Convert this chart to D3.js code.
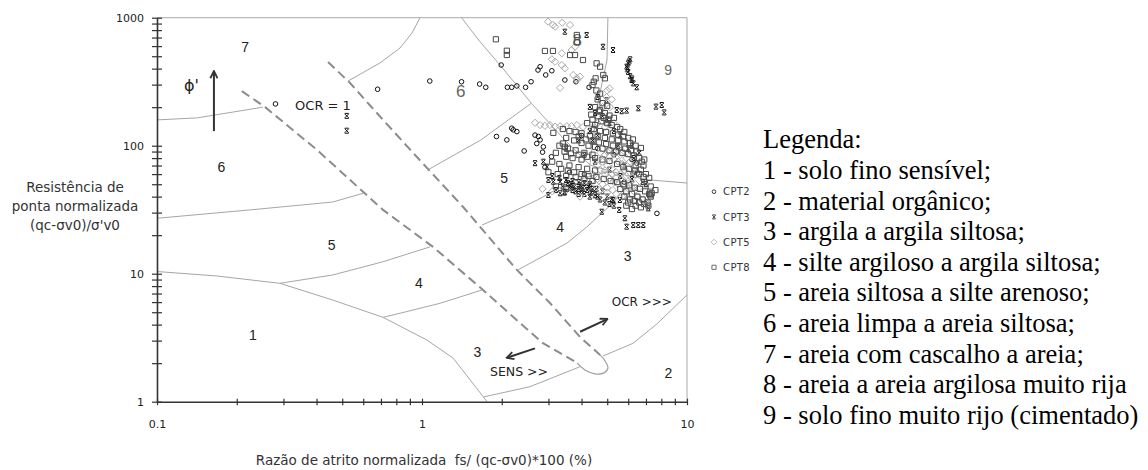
<!DOCTYPE html>
<html>
<head>
<meta charset="utf-8">
<script src="https://cdn.jsdelivr.net/npm/d3@7"></script>
<style>
  body { margin: 0; background: #fff; }
  text { white-space: pre; }
</style>
</head>
<body>
<div id="chart"></div>
<script>
// ---- data: [Fr (%), Q] pairs ----
var yMajorTicks = [1, 10, 100, 1000];
var xMajorTicks = [0.1, 1, 10];

// zone boundaries (solid)
var b67a = [[0.1,159],[0.142,165],[0.251,200]];
var b67b = [[0.526,320],[0.694,443],[0.826,580],[0.917,759],[0.983,1000]];
var b56a = [[0.1,27.1],[0.224,31.5],[0.46,36.3],[0.60,42.5]];
var b56b = [[1.05,64.6],[1.67,111],[2.58,214]];
var b8 = [[1.41,1000],[1.655,649],[1.97,427],[2.59,214],[3.40,115],[4.30,70.7]];
var b9 = [[5.03,1000],[4.99,467],[4.78,309],[4.58,200],[4.30,70.7]];
var b93 = [[4.30,70.7],[5.12,63.4],[6.26,57],[7.25,54],[10,51.1]];
var b45a = [[0.291,8.41],[0.46,9.77],[0.713,12.4],[1.072,16.2]];
var b45b = [[1.684,24.0],[2.15,29.8],[2.72,37.6],[3.62,52.1],[5.12,63.4]];
var b34a = [[0.713,4.56],[0.826,4.91],[1.169,5.87],[1.684,7.46]];
var b34b = [[2.30,10.7],[2.79,13.3],[3.53,17.4],[4.19,23.2],[4.82,30.3],[5.26,35.7],[6.26,57]];
var b1 = [[0.1,10.4],[0.168,9.6],[0.291,8.41],[0.46,6.23],[0.713,4.56],[1.044,3.03],[1.31,2.19],[1.52,1.48],[1.76,1]];
var b23a = [[1.71,1.09],[2.556,1.31],[3.95,1.877]];
var b23b = [[4.82,2.275],[6.26,2.86],[7.70,4.05],[10,6.82]];

// normally consolidated band (dashed) and its rounded end
var ncLow = [[0.209,267],[0.256,200],[0.402,92.5],[0.713,31.5],[1.10,16.2],[1.70,7.46],[2.21,4.59],[2.86,2.87],[3.85,2.01]];
var ncHigh = [[0.442,451],[0.535,309],[0.713,159],[0.957,81.6],[1.43,33.2],[2.28,10.7],[3.04,5.90],[3.95,3.20],[4.70,2.32]];
var ncEnd = [[3.85,2.01],[4.12,1.77],[4.50,1.65],[4.86,1.68],[5.03,1.83],[4.91,2.08],[4.70,2.32]];

// CPT soundings
var cpt2 = [[0.28,212],[0.68,276],[1.07,320],[1.41,316],[1.65,303],[1.74,286],[2.1,286],[2.18,286],[2.28,293],[2.46,286],
  [2.58,316],[1.99,427],[2.79,414],[2.74,390],[3.09,385],[2.93,357],[3.46,326],[3.81,316],[4.27,286],
  [1.91,118],[2.09,111],[2.18,137],[2.21,133],[2.28,129],[2.43,91],[2.67,121],[2.75,118],[2.79,111],[2.71,104],[2.87,98],
  [2.85,89],[3.08,82],[2.91,68],[7.7,29.6],[6.2,78],[6.45,73],[6.25,61],[6.5,61],
  [4.0,120],[4.6,95],[5.3,85],[3.6,62],[4.1,60],[5.8,52]];
var cpt3 = [[0.52,171],[0.52,131],[3.46,777],[4.18,733],[4.82,593],[5.26,559],
  [6.1,473],[6.05,455],[6.0,440],[5.92,414],[5.95,395],[6.0,377],[6.1,349],[6.2,335],[6.18,326],[6.27,307],[6.46,286],
  [5.43,190],[5.67,186],[5.92,188],[6.55,196],[7.64,202],[8.03,208],[8.2,182],
  [4.77,30.5],[5.55,31.5],[5.83,27.1],[5.92,23.3],[6.27,24],[6.55,24],[6.84,24],[7.14,32.4],[5.27,37.6],[5.58,37.6],
  [2.67,73],[2.87,75],[2.96,68.5],[3.0,54],[3.13,52.3],[3.32,52.3],[3.0,41.2],[3.32,42.5],[3.46,43.7],
  [3.6,47],[3.7,45],[3.8,44],[3.9,46],[4.0,44],[4.1,42],[4.2,45],[4.35,43],[4.5,41],[4.6,40],[3.65,50],[3.95,49],
  [4.25,48],[4.55,46],[4.8,44],[5.0,40],[5.2,38],[4.3,201],[4.97,226],[4.6,240],
  [5.0,160],[5.3,130],[4.6,120],[5.5,100],[6.0,95],[6.3,80],[5.8,70],[6.8,52],[7.0,50],[4.3,130],[3.9,110],[3.5,95],
  [4.1,85],[4.5,75],[5.1,65],[5.6,58],[6.2,55],
  [3.1,58],[3.3,56],[3.5,54],[3.7,53],[3.9,52],[4.1,51],[4.3,50],[3.4,48],[3.55,51],[3.75,48],[4.05,47],[4.4,46],
  [3.2,45],[3.45,43],[3.9,42],[4.3,40],[4.7,38],[4.9,36],[5.1,35],[5.3,34],
  [4.5,180],[4.8,170],[5.1,150],[4.4,110],[5.6,120],[6.2,100],[6.6,88]];
var cpt5 = [[2.99,931],[3.12,877],[3.38,914],[3.62,877],[3.18,851],
  [3.37,527],[3.67,559],[3.78,593],[3.09,473],[3.18,453],[3.37,427],[3.46,402],[3.72,357],[3.84,336],[3.95,346],
  [2.67,151],[2.79,145],[2.91,143],[3.04,145],[3.18,141],[3.32,142],[3.52,142],[3.67,142],[3.84,145],[4.05,140],[4.4,138],
  [4.7,88],[4.9,85],[5.1,82],[5.3,78],[5.5,75],[5.7,72],[4.8,75],[5.0,70],[5.2,66],[5.4,62],[5.6,60],[5.9,58],[4.7,65],
  [4.9,60],[5.1,56],[5.3,52],[5.5,50],[5.8,48],[6.0,46],[4.6,55],[4.8,50],[5.0,47],[5.25,45],[6.1,52],[6.3,44],[6.5,40],
  [6.8,38],[7.0,36],[3.5,45],[3.95,40],[2.85,46],[3.1,44],[5.1,280],[4.97,240],[3.84,326],[3.32,283],[5.0,270],[5.12,200],
  [5.0,90],[5.3,88],[5.6,85],[5.9,80],[6.1,75],[6.3,68],[6.5,62],[5.8,65],[6.0,60],[6.2,56],[6.4,50],[6.6,47],[5.4,56],
  [5.65,54],[5.2,60],[4.9,64],[4.6,70],[4.4,60],[4.5,50],[4.7,45],[5.0,43],[5.4,42],[5.7,40],[6.0,39],[6.3,37],
  [4.6,150],[4.9,140],[5.3,150],[4.8,200],[5.2,230]];
var cpt8 = [[1.9,678],[2.09,552],[2.09,511],[2.91,550],[3.12,550],[3.62,511],[3.78,511],[3.84,733],[3.84,646],[4.05,467],
  [4.56,440],[4.70,414],[4.45,316],[4.4,298],[4.52,336],[4.83,357],[4.9,336],
  [3.13,126],[3.4,104],[3.46,98],[7.36,42.5],[6.75,75],[6.85,70],[7.26,41],
  [4.55,270],[4.7,255],[4.6,230],[4.8,215],[5.0,205],[4.5,200],[4.7,190],[4.9,180],[5.1,172],[4.6,170],[5.3,165],[4.4,160],
  [4.75,155],[5.0,150],[5.2,145],[5.45,140],[5.6,135],[5.8,128],[4.5,145],[4.2,150],
  [3.4,135],[3.6,130],[3.8,128],[4.0,125],[4.3,120],[4.6,118],[4.9,115],[5.2,112],[5.5,110],[5.8,108],[6.1,105],[6.4,100],
  [6.7,96],[3.5,115],[3.75,110],[4.0,105],[4.25,100],[4.5,98],[4.8,95],[5.1,92],[5.4,90],[5.7,88],[6.0,86],[6.3,84],
  [6.6,80],[6.9,78],[3.3,100],[3.55,95],[3.8,92],[4.1,88],[4.4,85],[3.2,88],[3.5,82],[3.7,80],[4.0,78],
  [3.1,75],[3.3,72],[3.6,70],[3.9,68],[4.2,66],[4.5,64],[6.4,70],[6.7,65],[7.0,60],[7.2,56],[6.9,52],[7.3,48],[3.0,62],
  [3.25,60],[3.5,58],[3.8,57],[4.1,55],[4.4,53],[5.6,46],[5.9,44],[6.2,42],[6.5,40],[6.8,38],[7.1,36],[6.0,36],[6.4,34],
  [6.7,33],[7.3,40],[7.6,45],[3.2,48],[3.5,46],
  [4.35,175],[4.65,185],[4.85,165],[5.05,160],[4.45,135],[4.7,130],[4.95,128],[5.25,125],[5.5,122],[5.75,118],[6.0,115],
  [6.25,112],[3.9,118],[4.15,112],[4.4,108],[4.65,106],[4.95,103],[5.25,100],[5.55,97],[5.85,95],[6.15,92],[6.45,90],
  [3.45,90],[3.65,87],[3.9,85],[4.2,82],[4.5,80],[4.8,78],[5.1,76],[5.45,72],[5.75,68],[6.05,66],[6.35,64],[6.6,60],
  [6.85,57],[3.35,66],[3.55,64],[3.75,62],[4.0,60],[4.25,58],[4.55,57],[4.85,55],[5.15,53],[5.45,52],[5.75,50],[6.05,49],
  [6.35,47],[6.65,46],[6.95,44],[7.2,42],[5.8,40],[6.1,38],[6.35,37],[6.6,36],[6.9,35],[7.15,34],[5.9,34],[6.2,32]];

var seriesNames = ["CPT2", "CPT3", "CPT5", "CPT8"];

// zone numbers [label, Fr, Q]
var zoneLabels = [["7",0.215,593],["6",0.175,68.5],["6",1.40,267],["8",3.85,670],["9",8.48,390],["5",2.04,55.6],
  ["5",0.456,16.8],["4",0.974,8.5],["4",3.32,23.3],["3",5.97,13.7],["3",1.62,2.46],["2",8.5,1.67],["1",0.23,3.32]];

var legendTitle = "Legenda:";
var zoneNames = ["1 - solo fino sensível;", "2 - material orgânico;", "3 - argila a argila siltosa;",
  "4 - silte argiloso a argila siltosa;", "5 - areia siltosa a silte arenoso;", "6 - areia limpa a areia siltosa;",
  "7 - areia com cascalho a areia;", "8 - areia a areia argilosa muito rija", "9 - solo fino muito rijo (cimentado)"];

// ---- drawing ----
var width = 1148, height = 470;
var margin = {left: 157, right: 461, top: 17.7, bottom: 68.3};

var svg = d3.select("#chart").append("svg").attr("width", width).attr("height", height);

var x = d3.scaleLog().domain([0.1, 10]).range([margin.left, width - margin.right]);
var y = d3.scaleLog().domain([1, 1000]).range([height - margin.bottom, margin.top]);

var defs = svg.append("defs");
defs.append("marker").attr("id", "arr")
    .attr("viewBox", "0 0 10 10").attr("refX", 8).attr("refY", 5)
    .attr("markerWidth", 9).attr("markerHeight", 9)
    .attr("markerUnits", "userSpaceOnUse").attr("orient", "auto")
    .append("path").attr("d", "M1,1L9,5L1,9")
    .attr("fill", "none").attr("stroke", "#333").attr("stroke-width", 2);

// frame (top and right)
svg.append("path")
    .attr("d", "M" + x(0.1) + "," + y(1000) + "H" + x(10) + "V" + y(1))
    .attr("fill", "none").attr("stroke", "#aaa").attr("stroke-width", 1);

var line = d3.line().x(function(d) { return x(d[0]); }).y(function(d) { return y(d[1]); });

var boundaries = [b67a, b67b, b56a, b56b, b8, b9, b93, b45a, b45b, b34a, b34b, b1, b23a, b23b];
svg.append("g").selectAll("path")
    .data(boundaries).enter().append("path")
    .attr("d", line)
    .attr("fill", "none").attr("stroke", "#a6a6a6").attr("stroke-width", 1);

svg.append("g").selectAll("path")
    .data([ncLow, ncHigh]).enter().append("path")
    .attr("d", line)
    .attr("fill", "none").attr("stroke", "#8c8c8c").attr("stroke-width", 2)
    .attr("stroke-dasharray", "9,5");

svg.append("path")
    .attr("d", line.curve(d3.curveCatmullRom)(ncEnd))
    .attr("fill", "none").attr("stroke", "#a0a0a0").attr("stroke-width", 1.2);
line.curve(d3.curveLinear);

// axes
var yAxis = d3.axisLeft(y).tickValues(y.ticks())
    .tickFormat(function(d) { return yMajorTicks.indexOf(d) >= 0 ? d : ""; })
    .tickSizeOuter(0);
var gy = svg.append("g").attr("transform", "translate(" + x(0.1) + ",0)").call(yAxis);
gy.select(".domain").attr("stroke", "#333").attr("stroke-width", 1.6);
gy.selectAll(".tick line").attr("x1", -5).attr("x2", 5).attr("stroke", "#333").attr("stroke-width", 1.2);
gy.selectAll(".tick text").attr("x", -13).attr("fill", "#222")
    .style("font-family", "DejaVu Sans").style("font-size", "11px");

var xAxis = d3.axisBottom(x).tickValues(x.ticks())
    .tickFormat(function(d) { return xMajorTicks.indexOf(d) >= 0 ? d : ""; })
    .tickSizeOuter(0);
var gx = svg.append("g").attr("transform", "translate(0," + y(1) + ")").call(xAxis);
gx.select(".domain").attr("stroke", "#333").attr("stroke-width", 1.6);
gx.selectAll(".tick line").attr("y1", -3).attr("y2", 3.5).attr("stroke", "#333").attr("stroke-width", 1.2);
gx.selectAll(".tick text").attr("y", 19).attr("fill", "#222")
    .style("font-family", "DejaVu Sans").style("font-size", "11px");

// axis titles
svg.append("text")
    .attr("x", 424).attr("y", 465).attr("text-anchor", "middle")
    .attr("fill", "#333").style("font-family", "DejaVu Sans").style("font-size", "13.5px")
    .text("Razão de atrito normalizada  fs/ (qc-σv0)*100 (%)");

var yTitle = ["Resistência de", "ponta normalizada", "(qc-σv0)/σ'v0"];
svg.append("g").selectAll("text")
    .data(yTitle).enter().append("text")
    .attr("x", 75).attr("y", function(d, i) { return 191.7 + i * 19.2; })
    .attr("text-anchor", "middle").attr("fill", "#333")
    .style("font-family", "DejaVu Sans").style("font-size", "13.5px")
    .text(function(d) { return d; });

// zone numbers
svg.append("g").selectAll("text")
    .data(zoneLabels).enter().append("text")
    .attr("x", function(d) { return x(d[1]); })
    .attr("y", function(d) { return y(d[2]); })
    .attr("dy", "0.36em").attr("text-anchor", "middle")
    .attr("fill", function(d, i) { return (i == 2 || i == 3 || i == 4) ? "#666" : "#222"; })
    .style("font-family", "Liberation Sans")
    .style("font-size", function(d, i) { return (i == 2 || i == 3) ? "17px" : "14px"; })
    .text(function(d) { return d[0]; });

// annotations
var annot = svg.append("g").attr("fill", "#222").style("font-family", "DejaVu Sans");
annot.append("text").attr("x", x(0.332)).attr("y", y(208)).attr("dy", "0.36em")
    .style("font-size", "13px").text("OCR = 1");
annot.append("text").attr("x", x(5.2)).attr("y", y(6.04)).attr("dy", "0.36em")
    .style("font-size", "12px").text("OCR >>>");
annot.append("text").attr("x", x(1.806)).attr("y", y(1.716)).attr("dy", "0.36em")
    .style("font-size", "12.5px").text("SENS >>");
annot.append("text").attr("x", x(0.135)).attr("y", y(298)).attr("dy", "0.36em")
    .attr("text-anchor", "middle").style("font-size", "16px").text("ϕ'");

var arrows = [[[0.164,130],[0.164,377]], [[3.95,3.52],[4.98,4.40]], [[2.67,2.61],[2.10,2.21]]];
svg.append("g").selectAll("path")
    .data(arrows).enter().append("path")
    .attr("d", line)
    .attr("fill", "none").attr("stroke", "#333").attr("stroke-width", 2)
    .attr("marker-end", "url(#arr)");

// point markers
function markerPath(k) {
  if (k == 0) return "M2.3,0A2.3,2.3 0 1,1 -2.3,0A2.3,2.3 0 1,1 2.3,0Z";
  if (k == 1) return "M-2,-2L2,2M-2,2L2,-2M-2,-2.5H2M-2,2.5H2";
  if (k == 2) return "M0,-3.6L3.6,0L0,3.6L-3.6,0Z";
  return "M-2.6,-2.6H2.6V2.6H-2.6Z";
}
var markerStroke = ["#111", "#111", "#aaa", "#4a4a4a"];
var series = [cpt2, cpt3, cpt5, cpt8];

series.forEach(function(pts, k) {
  svg.append("g").selectAll("path")
      .data(pts).enter().append("path")
      .attr("transform", function(d) { return "translate(" + x(d[0]) + "," + y(d[1]) + ")"; })
      .attr("d", markerPath(k))
      .attr("fill", "none").attr("stroke", markerStroke[k]).attr("stroke-width", 1);
});

// series legend
var leg = svg.append("g").selectAll("g")
    .data(seriesNames).enter().append("g")
    .attr("transform", function(d, i) { return "translate(714," + (191.7 + i * 25.2) + ")"; });
leg.append("path")
    .attr("d", function(d, i) { return markerPath(i); })
    .attr("fill", "none").attr("stroke", function(d, i) { return markerStroke[i]; })
    .attr("stroke-width", 1).attr("transform", "scale(0.8)");
leg.append("text").attr("x", 9).attr("dy", "0.36em")
    .attr("fill", "#333").style("font-family", "DejaVu Sans").style("font-size", "10px")
    .style("letter-spacing", "0.4px")
    .text(function(d) { return d; });

// zone legend
var legendLines = [legendTitle].concat(zoneNames);
svg.append("g").selectAll("text")
    .data(legendLines).enter().append("text")
    .attr("x", 763).attr("y", function(d, i) { return 148.4 + i * 30.6; })
    .attr("fill", "#000").style("font-family", "Liberation Serif").style("font-size", "26.5px")
    .text(function(d) { return d; });
</script>
</body>
</html>
